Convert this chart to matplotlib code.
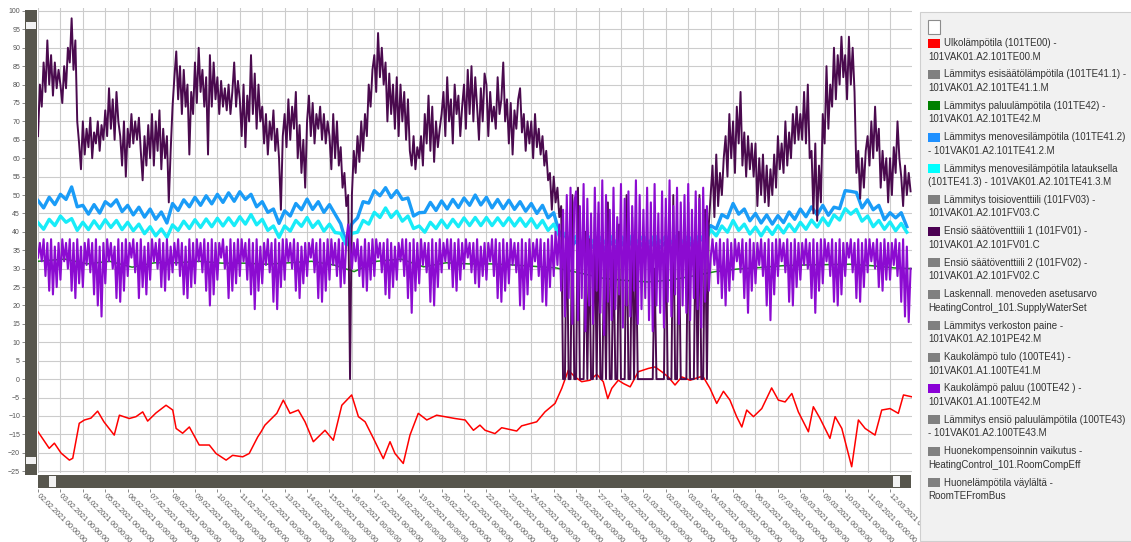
import numpy as np
import matplotlib
matplotlib.use("Agg")
import matplotlib.pyplot as plt
from matplotlib.patches import Rectangle
from matplotlib.ticker import MultipleLocator

plt.rcParams['font.family'] = ['Liberation Sans', 'DejaVu Sans']

# ---- x axis: one tick per day, days counted from 02.02.2021 00:00 ----
tick_dates = ["02.02", "03.02", "04.02", "05.02", "06.02", "07.02", "08.02", "09.02",
              "10.02", "11.02", "12.02", "13.02", "14.02", "15.02", "16.02", "17.02",
              "18.02", "19.02", "20.02", "21.02", "22.02", "23.02", "24.02", "25.02",
              "26.02", "27.02", "28.02", "01.03", "02.03", "03.03", "04.03", "05.03",
              "06.03", "07.03", "08.03", "09.03", "10.03", "11.03", "12.03"]
tick_labels = [d + ".2021 00:00:00" for d in tick_dates]

# ---- Ulkolämpötila (101TE00), irregular samples (day, °C) ----
red_days = [0, 0.5, 0.73, 1.03, 1.4, 1.55, 1.84, 2.07, 2.36, 2.66, 2.94, 3.4, 3.63, 4.07,
            4.37, 4.67, 4.89, 5.26, 5.71, 6.01, 6.16, 6.45, 6.75, 7.19, 7.64, 7.94, 8.39,
            8.68, 9.13, 9.42, 9.8, 9.95, 10.12, 10.65, 10.94, 11.24, 11.61, 11.91, 12.28,
            12.8, 13.17, 13.55, 13.99, 14.29, 14.59, 14.96, 15.4, 15.7, 15.92, 16.29,
            16.59, 16.96, 17.34, 17.78, 18.6, 19.05, 19.42, 19.71, 19.94, 20.38, 20.68,
            21.35, 21.57, 22.24, 22.61, 23.06, 23.36, 23.65, 23.95, 24.25, 24.62, 24.92,
            25.21, 25.41, 25.59, 25.88, 26.11, 26.41, 26.77, 27.22, 27.52, 27.82, 28.11,
            28.41, 28.71, 29.08, 29.53, 29.67, 29.97, 30.27, 30.57, 30.86, 31.16, 31.39,
            31.61, 31.91, 32.28, 32.72, 33.02, 33.32, 33.62, 33.91, 34.36, 34.58, 34.88,
            35.32, 35.55, 35.85, 36.29, 36.59, 36.89, 37.33, 37.63, 38.0, 38.37, 38.6, 38.97]
red_vals = [-14.3, -18.8, -17.4, -20.1, -22, -21.5, -12, -11.1, -10.6, -8.7, -11.6, -15.2,
            -9.8, -10.7, -10.2, -8.9, -11.4, -9.2, -7.1, -8.4, -13.4, -14.7, -13, -17.9,
            -17.9, -20.2, -22, -20.7, -21.1, -20.2, -15.7, -14.3, -12.5, -9.3, -5.7, -9.3,
            -8.4, -11.6, -17, -13.9, -16.6, -7.1, -4.3, -10.2, -11.6, -16.1, -21.6, -17,
            -20.2, -22.9, -15.2, -9.3, -11.1, -9.8, -10.7, -11.1, -13.9, -12.5, -13.9,
            -14.8, -13.2, -14.1, -12.7, -11.6, -8.9, -6.6, -2.5, 2.4, 0.6, -0.7, -0.3, 1.3,
            -0.7, -5.3, -2.5, -0.3, -1.2, -2.1, 2, 2.9, 3.3, 2, 0.6, -1.6, 0.6, -0.3, 0.6,
            0.6, -2.5, -6.6, -3.3, -5.7, -10.2, -13, -8.4, -10.2, -8, -2.4, -5.7, -6.2,
            -3.9, -8.9, -14.3, -7.5, -10.7, -16.1, -10.2, -13.4, -23.8, -11.1, -13.4,
            -15.2, -8.4, -8, -9.3, -4.3, -4.8]

# ---- Lämmitys paluulämpötila (101TE42) ----
green_days = [0, 1.2, 2.2, 3.2, 4.2, 5.2, 6.2, 7.2, 8.2, 9.2, 10.2, 11.2, 12.2, 13.2, 14.1,
              15.1, 16.2, 17.2, 18.2, 19.2, 20.2, 21.2, 22.2, 23.1, 24.2, 25.2, 26.2, 27.2,
              28.2, 29.2, 30.2, 31.2, 32.2, 33.2, 34.2, 35.2, 36.2, 37.2, 38.2, 39]
green_vals = [32, 32.6, 31.3, 32, 30.4, 31.6, 31.6, 32, 31.5, 31.5, 31.2, 31.6, 32, 31,
              29.2, 32, 32.6, 30.5, 31.6, 31.3, 31.3, 31, 30.6, 30.2, 28.8, 27.4, 26.8,
              26.4, 26.9, 28, 29.2, 29.9, 30.3, 30.8, 31, 31.1, 31.2, 30.8, 30.2, 30]

# ---- Lämmitys menovesilämpötila (101TE41.2), 6 h samples ----
blue_vals = [48.5, 46.5, 49.4, 47.4, 50.2, 48.8, 52.2, 46.8, 47.2, 44.8, 47.4, 45.1,
             48.2, 47.0, 48.7, 45.5, 47.2, 44.6, 46.7, 44.0, 46.2, 43.4, 45.4, 42.4,
             47.7, 45.8, 48.7, 46.8, 49.4, 47.2, 49.8, 47.6, 50.2, 48.0, 50.6, 48.3,
             50.9, 48.8, 50.2, 46.8, 48.2, 45.3, 46.2, 42.3, 45.7, 44.3, 47.7, 46.0,
             48.9, 46.1, 48.2, 45.3, 47.4, 44.8, 42.2, 36.8, 42.2, 43.8, 48.2, 47.8,
             51.2, 49.8, 52.0, 49.3, 51.2, 48.8, 49.2, 44.3, 45.2, 45.3, 48.0, 45.8,
             48.4, 46.2, 48.8, 46.6, 49.2, 47.2, 50.0, 47.3, 49.4, 46.5, 48.8, 46.3,
             48.6, 46.1, 48.2, 45.6, 47.7, 45.0, 47.2, 43.8, 45.2, 39.8, 39.2, 35.8,
             37.5, 35.5, 37.8, 35.8, 37.2, 35.3, 37.6, 35.6, 37.4, 35.2, 37.9, 35.5,
             37.1, 35.4, 37.6, 35.7, 37.3, 35.2, 37.5, 35.6, 37.4, 35.6, 38.2, 37.4,
             41.7, 40.8, 44.7, 43.8, 47.7, 44.8, 46.2, 43.0, 45.0, 42.4, 44.6, 42.1,
             44.4, 42.5, 45.4, 43.4, 46.2, 44.1, 46.8, 44.6, 47.2, 44.5, 46.7, 46.3,
             51.2, 51.0, 50.7, 46.5, 48.7, 46.0, 47.2, 43.3, 45.2, 43.8, 45.2, 41.4]

# ---- Lämmitys menovesilämpötila latauksella (101TE41.3), 6 h samples ----
cyan_vals = [42.5, 40.7, 43.4, 41.7, 44.3, 42.6, 43.6, 40.4, 42.6, 40.6, 43.0, 40.9,
             43.3, 41.2, 43.1, 40.6, 42.6, 40.3, 42.1, 39.5, 41.4, 38.9, 40.8, 38.5,
             41.9, 40.4, 42.9, 40.9, 43.3, 41.2, 43.5, 41.4, 43.7, 41.6, 43.8, 41.7,
             44.1, 42.1, 44.7, 41.9, 43.4, 40.4, 41.6, 38.5, 41.6, 40.2, 43.1, 41.5,
             43.9, 41.2, 42.9, 40.2, 42.1, 39.8, 39.6, 36.4, 39.6, 39.9, 43.1, 42.1,
             45.3, 43.9, 46.5, 43.9, 45.6, 42.9, 44.3, 40.9, 41.6, 39.9, 42.6, 40.9,
             43.2, 41.1, 43.4, 41.4, 43.8, 41.7, 43.9, 41.7, 43.9, 41.7, 43.8, 41.7,
             43.8, 41.6, 43.7, 41.5, 43.6, 41.1, 43.1, 40.4, 42.1, 38.9, 39.6, 36.9,
             38.8, 37.0, 39.0, 37.2, 38.8, 37.0, 39.0, 37.2, 38.8, 37.0, 39.0, 37.2,
             38.8, 37.0, 39.0, 37.2, 38.8, 37.0, 39.0, 37.2, 38.8, 37.0, 39.0, 37.2,
             40.6, 38.9, 41.6, 39.9, 43.1, 40.4, 42.1, 39.4, 41.3, 38.9, 41.3, 39.3,
             41.7, 39.7, 42.1, 40.1, 42.6, 40.7, 43.2, 41.3, 43.8, 41.7, 44.6, 43.2,
             46.3, 44.8, 46.1, 42.9, 44.3, 41.4, 43.1, 40.7, 42.7, 40.3, 42.3, 39.9]

# ---- Ensiö säätöventtiili 1 (101FV01), 2 h samples, one row per day ----
fv01_vals = [
    66, 80, 74, 86, 78, 92, 80, 88, 77, 86, 79, 84,
    80, 75, 85, 79, 90, 86, 98, 84, 92, 70, 64, 57,
    70, 61, 68, 63, 71, 60, 67, 64, 70, 62, 69, 65,
    73, 66, 79, 68, 76, 65, 78, 70, 66, 58, 70, 55,
    68, 63, 72, 64, 70, 65, 71, 62, 54, 66, 58, 69,
    60, 72, 58, 70, 62, 73, 57, 68, 60, 66, 48, 62,
    74, 82, 89, 76, 85, 72, 84, 74, 80, 61, 78, 72,
    86, 75, 90, 78, 84, 74, 82, 61, 88, 74, 86, 76,
    82, 72, 81, 74, 79, 73, 80, 72, 78, 86, 74, 81,
    76, 66, 80, 63, 77, 70, 88, 72, 83, 68, 80, 70,
    74, 64, 72, 61, 70, 65, 73, 62, 68, 60, 46, 66,
    72, 63, 76, 65, 74, 68, 78, 60, 69, 56, 65, 52,
    70, 77, 66, 75, 64, 72, 68, 74, 65, 72, 64, 70,
    66, 57, 72, 60, 70, 58, 63, 52, 56, 47, 50, 0,
    50, 62, 56, 66, 59, 70, 62, 72, 66, 80, 74, 84,
    88, 78, 94, 82, 90, 80, 86, 70, 83, 72, 80, 68,
    82, 66, 80, 70, 78, 65, 76, 62, 58, 66, 57, 63,
    60, 66, 58, 72, 64, 77, 62, 74, 59, 70, 63, 68,
    72, 78, 66, 82, 70, 76, 64, 80, 72, 77, 66, 74,
    80, 68, 84, 72, 85, 70, 82, 74, 65, 79, 70, 83,
    80, 66, 78, 70, 74, 68, 82, 72, 76, 86, 70, 76,
    64, 75, 61, 73, 68, 76, 79, 67, 72, 62, 70, 64,
    70, 60, 72, 63, 68, 61, 66, 58, 62, 54, 56, 46,
    55, 48, 52, 44, 47, 0, 0, 46, 0, 0, 50, 0,
    0, 52, 0, 0, 0, 40, 0, 38, 0, 0, 44, 0,
    45, 0, 0, 33, 0, 48, 0, 0, 36, 0, 0, 42,
    0, 0, 0, 50, 0, 0, 44, 0, 38, 0, 0, 0,
    0, 0, 0, 0, 0, 0, 30, 0, 0, 0, 0, 0,
    44, 0, 0, 0, 50, 0, 0, 40, 0, 0, 0, 0,
    48, 0, 0, 0, 44, 0, 50, 0, 0, 46, 0, 42,
    50, 58, 44, 61, 47, 56, 50, 60, 66, 55, 72, 60,
    70, 56, 74, 64, 78, 58, 67, 55, 66, 57, 64, 55,
    64, 47, 60, 50, 61, 48, 58, 47, 57, 50, 61, 52,
    66, 57, 64, 56, 70, 58, 67, 60, 72, 64, 74, 65,
    72, 65, 78, 64, 80, 60, 62, 45, 64, 43, 58, 48,
    72, 64, 85, 68, 80, 74, 90, 76, 88, 80, 93, 82,
    88, 76, 93, 80, 90, 78, 56, 62, 49, 60, 52, 62,
    66, 58, 70, 60, 74, 62, 68, 52, 62, 54, 60, 48,
    60, 50, 63, 56, 70, 60, 55, 47, 58, 50, 56, 51,
]

# ---- Kaukolämpö paluu (100TE42), 2 h samples, one row per day ----
paluu_vals = [
    33, 37, 32, 38, 28, 37, 24, 38, 23, 36, 25, 37,
    27, 38, 32, 37, 30, 38, 24, 37, 22, 38, 26, 36,
    25, 37, 31, 38, 29, 37, 23, 38, 20, 36, 17, 37,
    26, 38, 32, 37, 30, 36, 22, 38, 21, 37, 24, 38,
    28, 37, 33, 38, 29, 37, 22, 38, 25, 36, 23, 37,
    27, 38, 32, 37, 30, 38, 25, 37, 24, 38, 27, 36,
    29, 37, 31, 38, 28, 37, 23, 36, 22, 38, 25, 37,
    26, 38, 32, 37, 29, 38, 24, 37, 20, 38, 23, 37,
    27, 37, 33, 38, 30, 36, 22, 38, 24, 37, 26, 38,
    28, 38, 32, 37, 27, 38, 23, 37, 19, 38, 24, 36,
    26, 37, 31, 38, 29, 37, 21, 38, 19, 37, 25, 38,
    27, 38, 32, 37, 30, 38, 24, 37, 22, 36, 26, 37,
    28, 37, 33, 38, 29, 37, 22, 38, 21, 37, 24, 38,
    27, 38, 31, 37, 28, 38, 25, 37, 26, 38, 42, 37,
    30, 37, 32, 38, 28, 36, 25, 38, 24, 37, 27, 38,
    28, 38, 33, 37, 29, 37, 23, 38, 22, 37, 25, 36,
    27, 37, 32, 38, 28, 38, 22, 37, 18, 38, 24, 37,
    26, 38, 31, 37, 29, 37, 21, 38, 20, 37, 25, 38,
    29, 37, 32, 38, 30, 38, 25, 37, 24, 38, 27, 37,
    30, 38, 33, 37, 29, 37, 26, 38, 25, 36, 28, 37,
    27, 37, 32, 38, 28, 38, 22, 37, 21, 38, 24, 37,
    26, 38, 31, 37, 29, 37, 20, 38, 19, 37, 23, 38,
    27, 37, 32, 38, 28, 38, 21, 37, 20, 38, 25, 39,
    28, 40, 31, 42, 24, 46, 17, 50, 22, 52, 15, 48,
    51, 16, 47, 22, 53, 13, 49, 20, 45, 15, 52, 24,
    48, 18, 54, 12, 50, 21, 46, 16, 52, 19, 44, 23,
    53, 14, 49, 20, 51, 17, 47, 24, 54, 15, 50, 19,
    46, 22, 52, 16, 48, 13, 53, 20, 45, 18, 51, 14,
    49, 21, 54, 17, 47, 23, 52, 15, 48, 20, 50, 18,
    53, 16, 46, 22, 51, 19, 49, 14, 52, 21, 47, 24,
    33, 38, 31, 37, 26, 38, 22, 37, 20, 38, 24, 37,
    27, 38, 32, 37, 29, 38, 22, 37, 18, 38, 24, 37,
    26, 37, 31, 38, 28, 37, 20, 38, 16, 37, 23, 38,
    28, 38, 32, 37, 29, 38, 21, 37, 20, 38, 25, 37,
    27, 37, 31, 38, 30, 37, 22, 38, 18, 37, 24, 38,
    26, 38, 32, 37, 28, 38, 21, 37, 20, 38, 23, 37,
    28, 37, 33, 38, 29, 37, 22, 38, 21, 37, 25, 38,
    29, 38, 32, 37, 30, 38, 25, 37, 24, 38, 27, 37,
    27, 37, 31, 38, 28, 37, 21, 38, 17, 36, 15.5, 30,
]

# ---- legend entries (two text lines each) ----
legend_names = [
    ("Ulkolämpötila (101TE00) -", "101VAK01.A2.101TE00.M"),
    ("Lämmitys esisäätölämpötila (101TE41.1) -", "101VAK01.A2.101TE41.1.M"),
    ("Lämmitys paluulämpötila (101TE42) -", "101VAK01.A2.101TE42.M"),
    ("Lämmitys menovesilämpötila (101TE41.2)", "- 101VAK01.A2.101TE41.2.M"),
    ("Lämmitys menovesilämpötila latauksella", "(101TE41.3) - 101VAK01.A2.101TE41.3.M"),
    ("Lämmitys toisioventtiili (101FV03) -", "101VAK01.A2.101FV03.C"),
    ("Ensiö säätöventtiili 1 (101FV01) -", "101VAK01.A2.101FV01.C"),
    ("Ensiö säätöventtiili 2 (101FV02) -", "101VAK01.A2.101FV02.C"),
    ("Laskennall. menoveden asetusarvo", "HeatingControl_101.SupplyWaterSet"),
    ("Lämmitys verkoston paine -", "101VAK01.A2.101PE42.M"),
    ("Kaukolämpö tulo (100TE41) -", "101VAK01.A1.100TE41.M"),
    ("Kaukolämpö paluu (100TE42 ) -", "101VAK01.A1.100TE42.M"),
    ("Lämmitys ensiö paluulämpötila (100TE43)", "- 101VAK01.A2.100TE43.M"),
    ("Huonekompensoinnin vaikutus -", "HeatingControl_101.RoomCompEff"),
    ("Huonelämpötila väylältä -", "RoomTEFromBus"),
]
legend_colors = ["#ff0000", "#808080", "#008000", "#1e90ff", "#00ffff", "#808080",
                 "#4b0052", "#808080", "#808080", "#808080", "#808080", "#8a00d6",
                 "#808080", "#808080", "#808080"]

# line colours of the drawn series
C_RED, C_GREEN, C_BLUE, C_CYAN = "#ff0000", "#178a17", "#1a9cf7", "#18ecf8"
C_FV01, C_PALUU = "#4a0a4e", "#8c0bd1"

W, H = 1131, 542


def fx(x):
    return x / W


def fy(y):
    return 1 - y / H


fig = plt.figure(figsize=(W / 100, H / 100), dpi=100)
fig.patch.set_facecolor("white")

ax = fig.add_axes([fx(38), fy(473), (912 - 38) / W, (473 - 8) / H])
ax.set_facecolor("white")

# axes sit outside the scrollbars; set this before styling the ticks
for s in ("top", "right"):
    ax.spines[s].set_visible(False)
ax.spines["left"].set_position(("outward", 9.4))
ax.spines["bottom"].set_position(("outward", 11.5))
ax.spines["left"].set_visible(False)
ax.spines["bottom"].set_visible(False)

# series, in legend order
ax.plot(red_days, red_vals, color=C_RED, lw=1.1, zorder=3)
ax.plot(green_days, green_vals, color=C_GREEN, lw=1.1, zorder=3)
ax.plot(np.arange(len(blue_vals)) / 4, blue_vals, color=C_BLUE, lw=2.4, zorder=3)
ax.plot(np.arange(len(cyan_vals)) / 4, cyan_vals, color=C_CYAN, lw=2.4, zorder=3)
ax.plot(np.arange(len(fv01_vals)) / 12, fv01_vals, color=C_FV01, lw=1.4, zorder=3)
ax.plot(np.arange(len(paluu_vals)) / 12, paluu_vals, color=C_PALUU, lw=1.5, zorder=3)

ax.set_xlim(0, 38.98)
ax.set_ylim(-25.5, 100.8)
ax.yaxis.set_major_locator(MultipleLocator(5))
ax.set_xticks(range(len(tick_labels)))
ax.set_xticklabels(tick_labels)
ax.tick_params(axis="y", labelsize=5, labelcolor="#555555", color="#777777",
               length=2.5, width=0.6, pad=1)
ax.tick_params(axis="x", labelsize=5.2, labelcolor="#555555", color="#777777",
               length=2.5, width=0.6, pad=2)
for lab in ax.get_xticklabels():
    lab.set_rotation(-45)
    lab.set_rotation_mode("anchor")
    lab.set_ha("left")
    lab.set_va("center")
ax.grid(True, color="#cccccc", lw=0.8)
ax.set_axisbelow(True)


def box(x0, y0, x1, y1, **kw):
    fig.add_artist(Rectangle((fx(x0), fy(y1)), (x1 - x0) / W, (y1 - y0) / H,
                             transform=fig.transFigure, **kw))


# zoom scrollbars
BAR = "#57564d"
box(25, 10, 37, 475, fc=BAR, ec="none")
box(26, 22, 36, 29, fc="#f2f2f2", ec="none")
box(26, 457, 36, 464, fc="#f2f2f2", ec="none")
box(38, 475, 911, 488, fc=BAR, ec="none")
box(49, 476, 56, 487, fc="#f2f2f2", ec="none")
box(893, 476, 900, 487, fc="#f2f2f2", ec="none")

# legend panel
box(920, 12, 1136, 541, fc="#f1f1f1", ec="#cfcfcf", lw=0.8)
box(928, 20, 940, 34, fc="white", ec="#8c8c8c", lw=0.8)
for i, ((l1, l2), col) in enumerate(zip(legend_names, legend_colors)):
    y = 43 + 31.4 * i
    box(928, y - 4.5, 940, y + 4.5, fc=col, ec="none")
    fig.text(fx(944), fy(y), l1, fontsize=7, color="#333333", va="center", ha="left")
    fig.text(fx(928), fy(y + 13.5), l2, fontsize=7, color="#333333", va="center", ha="left")

fig.savefig("out.png", dpi=100, facecolor="white")
